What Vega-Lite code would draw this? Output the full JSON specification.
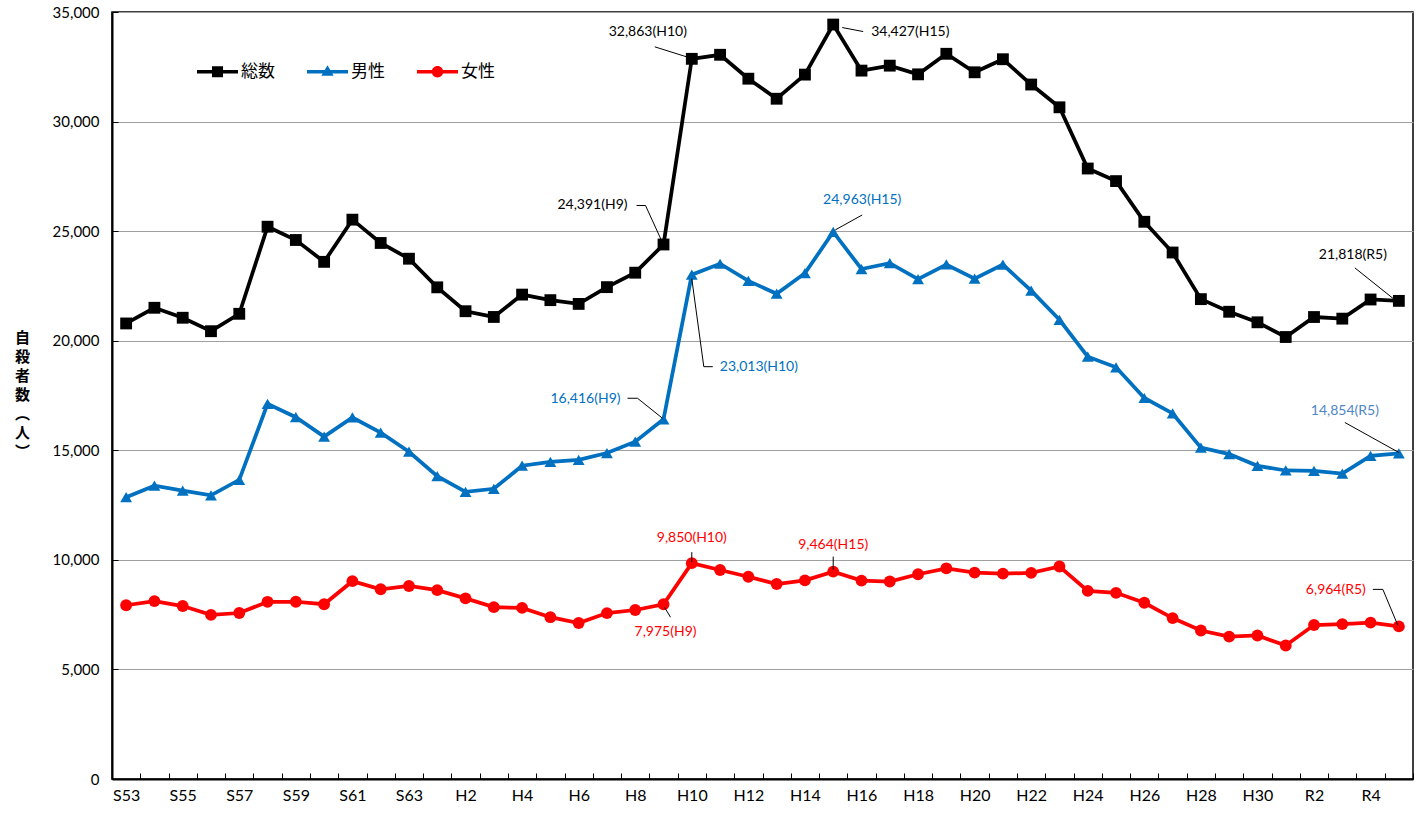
{
  "$schema": "https://vega.github.io/schema/vega-lite/v6.json",
  "width": 1301,
  "height": 767,
  "autosize": {"type": "none"},
  "padding": {"left": 112, "top": 12, "right": 3, "bottom": 34},
  "background": "#ffffff",
  "config": {
    "font": "Lato",
    "view": {"stroke": "#000000", "strokeWidth": 1.5}
  },
  "datasets": {
    "main": [
      {"year": "S53", "総数": 20788, "男性": 12859, "女性": 7929},
      {"year": "S54", "総数": 21503, "男性": 13386, "女性": 8117},
      {"year": "S55", "総数": 21048, "男性": 13155, "女性": 7893},
      {"year": "S56", "総数": 20434, "男性": 12942, "女性": 7492},
      {"year": "S57", "総数": 21228, "男性": 13654, "女性": 7574},
      {"year": "S58", "総数": 25202, "男性": 17116, "女性": 8086},
      {"year": "S59", "総数": 24596, "男性": 16508, "女性": 8088},
      {"year": "S60", "総数": 23599, "男性": 15624, "女性": 7975},
      {"year": "S61", "総数": 25524, "男性": 16497, "女性": 9027},
      {"year": "S62", "総数": 24460, "男性": 15802, "女性": 8658},
      {"year": "S63", "総数": 23742, "男性": 14934, "女性": 8808},
      {"year": "H1", "総数": 22436, "男性": 13818, "女性": 8618},
      {"year": "H2", "総数": 21346, "男性": 13102, "女性": 8244},
      {"year": "H3", "総数": 21084, "男性": 13242, "女性": 7842},
      {"year": "H4", "総数": 22104, "男性": 14296, "女性": 7808},
      {"year": "H5", "総数": 21851, "男性": 14468, "女性": 7383},
      {"year": "H6", "総数": 21679, "男性": 14560, "女性": 7119},
      {"year": "H7", "総数": 22445, "男性": 14874, "女性": 7571},
      {"year": "H8", "総数": 23104, "男性": 15393, "女性": 7711},
      {"year": "H9", "総数": 24391, "男性": 16416, "女性": 7975},
      {"year": "H10", "総数": 32863, "男性": 23013, "女性": 9850},
      {"year": "H11", "総数": 33048, "男性": 23512, "女性": 9536},
      {"year": "H12", "総数": 31957, "男性": 22727, "女性": 9230},
      {"year": "H13", "総数": 31042, "男性": 22144, "女性": 8898},
      {"year": "H14", "総数": 32143, "男性": 23080, "女性": 9063},
      {"year": "H15", "総数": 34427, "男性": 24963, "女性": 9464},
      {"year": "H16", "総数": 32325, "男性": 23272, "女性": 9053},
      {"year": "H17", "総数": 32552, "男性": 23540, "女性": 9012},
      {"year": "H18", "総数": 32155, "男性": 22813, "女性": 9342},
      {"year": "H19", "総数": 33093, "男性": 23478, "女性": 9615},
      {"year": "H20", "総数": 32249, "男性": 22831, "女性": 9418},
      {"year": "H21", "総数": 32845, "男性": 23472, "女性": 9373},
      {"year": "H22", "総数": 31690, "男性": 22283, "女性": 9407},
      {"year": "H23", "総数": 30651, "男性": 20955, "女性": 9696},
      {"year": "H24", "総数": 27858, "男性": 19273, "女性": 8585},
      {"year": "H25", "総数": 27283, "男性": 18787, "女性": 8496},
      {"year": "H26", "総数": 25427, "男性": 17386, "女性": 8041},
      {"year": "H27", "総数": 24025, "男性": 16681, "女性": 7344},
      {"year": "H28", "総数": 21897, "男性": 15121, "女性": 6776},
      {"year": "H29", "総数": 21321, "男性": 14826, "女性": 6495},
      {"year": "H30", "総数": 20840, "男性": 14290, "女性": 6550},
      {"year": "R1", "総数": 20169, "男性": 14078, "女性": 6091},
      {"year": "R2", "総数": 21081, "男性": 14055, "女性": 7026},
      {"year": "R3", "総数": 21007, "男性": 13939, "女性": 7068},
      {"year": "R4", "総数": 21881, "男性": 14746, "女性": 7135},
      {"year": "R5", "総数": 21818, "男性": 14854, "女性": 6964}
    ],
    "ann": [
      {"k": "T10", "year": "H10", "value": 32863, "label": "32,863(H10)"},
      {"k": "T15", "year": "H15", "value": 34427, "label": "34,427(H15)"},
      {"k": "T9", "year": "H9", "value": 24391, "label": "24,391(H9)"},
      {"k": "TR5", "year": "R5", "value": 21818, "label": "21,818(R5)"},
      {"k": "M15", "year": "H15", "value": 24963, "label": "24,963(H15)"},
      {"k": "M10", "year": "H10", "value": 23013, "label": "23,013(H10)"},
      {"k": "M9", "year": "H9", "value": 16416, "label": "16,416(H9)"},
      {"k": "MR5", "year": "R5", "value": 14854, "label": "14,854(R5)"},
      {"k": "F10", "year": "H10", "value": 9850, "label": "9,850(H10)"},
      {"k": "F15", "year": "H15", "value": 9464, "label": "9,464(H15)"},
      {"k": "F9", "year": "H9", "value": 7975, "label": "7,975(H9)"},
      {"k": "FR5", "year": "R5", "value": 6964, "label": "6,964(R5)"}
    ]
  },
  "encoding": {
    "x": {
      "field": "year",
      "type": "ordinal",
      "scale": {
        "type": "band",
        "paddingInner": 0,
        "paddingOuter": 0,
        "domain": ["S53","S54","S55","S56","S57","S58","S59","S60","S61","S62","S63","H1","H2","H3","H4","H5","H6","H7","H8","H9","H10","H11","H12","H13","H14","H15","H16","H17","H18","H19","H20","H21","H22","H23","H24","H25","H26","H27","H28","H29","H30","R1","R2","R3","R4","R5"]
      },
      "axis": {
        "title": null,
        "labelAngle": 0,
        "labelFont": "Lato",
        "labelFontSize": 16,
        "labelColor": "#000000",
        "labelPadding": 14,
        "labelExpr": "indexof(['S53','S55','S57','S59','S61','S63','H2','H4','H6','H8','H10','H12','H14','H16','H18','H20','H22','H24','H26','H28','H30','R2','R4'], datum.value) >= 0 ? datum.value : ''",
        "tickBand": "extent",
        "tickSize": -6,
        "tickColor": "#000000",
        "tickWidth": 1,
        "domainColor": "#000000",
        "domainWidth": 2,
        "grid": false
      }
    },
    "y": {
      "field": "value",
      "type": "quantitative",
      "scale": {"domain": [0, 35000], "nice": false, "zero": true},
      "axis": {
        "title": ["自", "殺", "者", "数", "︵", "人", "︶"],
        "titleAngle": 0,
        "titleFont": "Noto Sans CJK JP",
        "titleFontWeight": "bold",
        "titleFontSize": 15,
        "titleLineHeight": 19,
        "titleColor": "#000000",
        "titleX": -90,
        "titleY": 318,
        "titleAlign": "center",
        "titleBaseline": "top",
        "values": [0, 5000, 10000, 15000, 20000, 25000, 30000, 35000],
        "labelExpr": "format(datum.value, ',')",
        "labelFont": "Lato",
        "labelFontSize": 15,
        "labelColor": "#000000",
        "labelPadding": 19,
        "tickSize": -6,
        "tickColor": "#000000",
        "tickWidth": 1,
        "domainColor": "#000000",
        "domainWidth": 2,
        "grid": true,
        "gridColor": "#a0a0a0",
        "gridWidth": 1
      }
    }
  },
  "layer": [
    {
      "data": {"name": "main"},
      "transform": [{"fold": ["総数", "男性", "女性"], "as": ["series", "value"]}],
      "mark": {"type": "point", "filled": true, "opacity": 0, "size": 1},
      "encoding": {
        "color": {
          "field": "series",
          "type": "nominal",
          "scale": {"domain": ["総数", "男性", "女性"], "range": ["#000000", "#0070C0", "#FF0000"]},
          "legend": {
            "title": null,
            "orient": "none",
            "legendX": 85,
            "legendY": 39,
            "direction": "horizontal",
            "columns": 3,
            "columnPadding": 32,
            "labelOffset": 3,
            "labelFont": "Noto Sans CJK JP",
            "labelFontSize": 17,
            "labelColor": "#000000",
            "symbolSize": 1681,
            "symbolStrokeWidth": 0,
            "symbolOpacity": 1
          }
        },
        "shape": {
          "field": "series",
          "type": "nominal",
          "scale": {
            "domain": ["総数", "男性", "女性"],
            "range": [
              "M-1,-0.085H1V0.085H-1Z M-0.27,-0.27H0.27V0.27H-0.27Z",
              "M-1,-0.085H1V0.085H-1Z M0,-0.32L0.3,0.2H-0.3Z",
              "M-1,-0.085H1V0.085H-1Z M-0.28,0A0.28,0.28 0 1,1 0.28,0A0.28,0.28 0 1,1 -0.28,0Z"
            ]
          },
          "legend": {
            "title": null,
            "orient": "none",
            "legendX": 85,
            "legendY": 39,
            "direction": "horizontal",
            "columns": 3,
            "columnPadding": 32,
            "labelOffset": 3,
            "labelFont": "Noto Sans CJK JP",
            "labelFontSize": 17,
            "labelColor": "#000000",
            "symbolSize": 1681,
            "symbolStrokeWidth": 0,
            "symbolOpacity": 1
          }
        }
      }
    },
    {
      "data": {"name": "main"},
      "transform": [{"fold": ["総数", "男性", "女性"], "as": ["series", "value"]}],
      "mark": {"type": "line", "strokeWidth": 3.75},
      "encoding": {"color": {"field": "series", "type": "nominal"}}
    },
    {
      "data": {"name": "main"},
      "transform": [{"fold": ["総数"], "as": ["series", "value"]}],
      "mark": {"type": "point", "shape": "square", "filled": true, "size": 140, "opacity": 1},
      "encoding": {"color": {"field": "series", "type": "nominal"}}
    },
    {
      "data": {"name": "main"},
      "transform": [{"fold": ["男性"], "as": ["series", "value"]}],
      "mark": {"type": "point", "shape": "triangle-up", "filled": true, "size": 140, "opacity": 1},
      "encoding": {"color": {"field": "series", "type": "nominal"}}
    },
    {
      "data": {"name": "main"},
      "transform": [{"fold": ["女性"], "as": ["series", "value"]}],
      "mark": {"type": "point", "shape": "circle", "filled": true, "size": 140, "opacity": 1},
      "encoding": {"color": {"field": "series", "type": "nominal"}}
    },
    {"data": {"name": "ann"}, "transform": [{"filter": "datum.k === 'T10'"}], "mark": {"type": "rule", "color": "#000000", "strokeWidth": 1, "xOffset": -37, "yOffset": -12, "x2Offset": -2, "y2Offset": -1}, "encoding": {"x2": {"field": "year"}, "y2": {"field": "value"}}},
    {"data": {"name": "ann"}, "transform": [{"filter": "datum.k === 'T15'"}], "mark": {"type": "rule", "color": "#000000", "strokeWidth": 1, "xOffset": 9, "yOffset": 3, "x2Offset": 30, "y2Offset": 7}, "encoding": {"x2": {"field": "year"}, "y2": {"field": "value"}}},
    {"data": {"name": "ann"}, "transform": [{"filter": "datum.k === 'T9'"}], "mark": {"type": "rule", "color": "#000000", "strokeWidth": 1, "xOffset": -27, "yOffset": -39, "x2Offset": -18, "y2Offset": -39}, "encoding": {"x2": {"field": "year"}, "y2": {"field": "value"}}},
    {"data": {"name": "ann"}, "transform": [{"filter": "datum.k === 'T9'"}], "mark": {"type": "rule", "color": "#000000", "strokeWidth": 1, "xOffset": -18, "yOffset": -39, "x2Offset": -2, "y2Offset": -4}, "encoding": {"x2": {"field": "year"}, "y2": {"field": "value"}}},
    {"data": {"name": "ann"}, "transform": [{"filter": "datum.k === 'TR5'"}], "mark": {"type": "rule", "color": "#000000", "strokeWidth": 1, "xOffset": -44, "yOffset": -33, "x2Offset": -4, "y2Offset": -1}, "encoding": {"x2": {"field": "year"}, "y2": {"field": "value"}}},
    {"data": {"name": "ann"}, "transform": [{"filter": "datum.k === 'M15'"}], "mark": {"type": "rule", "color": "#000000", "strokeWidth": 1, "xOffset": 29, "yOffset": -17, "x2Offset": 2, "y2Offset": -2}, "encoding": {"x2": {"field": "year"}, "y2": {"field": "value"}}},
    {"data": {"name": "ann"}, "transform": [{"filter": "datum.k === 'M10'"}], "mark": {"type": "rule", "color": "#000000", "strokeWidth": 1, "xOffset": 0, "yOffset": 4, "x2Offset": 12, "y2Offset": 92}, "encoding": {"x2": {"field": "year"}, "y2": {"field": "value"}}},
    {"data": {"name": "ann"}, "transform": [{"filter": "datum.k === 'M10'"}], "mark": {"type": "rule", "color": "#000000", "strokeWidth": 1, "xOffset": 12, "yOffset": 92, "x2Offset": 21, "y2Offset": 92}, "encoding": {"x2": {"field": "year"}, "y2": {"field": "value"}}},
    {"data": {"name": "ann"}, "transform": [{"filter": "datum.k === 'M9'"}], "mark": {"type": "rule", "color": "#000000", "strokeWidth": 1, "xOffset": -36, "yOffset": -21, "x2Offset": -26, "y2Offset": -21}, "encoding": {"x2": {"field": "year"}, "y2": {"field": "value"}}},
    {"data": {"name": "ann"}, "transform": [{"filter": "datum.k === 'M9'"}], "mark": {"type": "rule", "color": "#000000", "strokeWidth": 1, "xOffset": -26, "yOffset": -21, "x2Offset": -1, "y2Offset": -1}, "encoding": {"x2": {"field": "year"}, "y2": {"field": "value"}}},
    {"data": {"name": "ann"}, "transform": [{"filter": "datum.k === 'MR5'"}], "mark": {"type": "rule", "color": "#000000", "strokeWidth": 1, "xOffset": -54, "yOffset": -31, "x2Offset": 0, "y2Offset": -1}, "encoding": {"x2": {"field": "year"}, "y2": {"field": "value"}}},
    {"data": {"name": "ann"}, "transform": [{"filter": "datum.k === 'F10'"}], "mark": {"type": "rule", "color": "#000000", "strokeWidth": 1, "xOffset": 0, "yOffset": -11, "x2Offset": 0, "y2Offset": -1}, "encoding": {"x2": {"field": "year"}, "y2": {"field": "value"}}},
    {"data": {"name": "ann"}, "transform": [{"filter": "datum.k === 'F15'"}], "mark": {"type": "rule", "color": "#000000", "strokeWidth": 1, "xOffset": 0, "yOffset": -15, "x2Offset": 0, "y2Offset": -2}, "encoding": {"x2": {"field": "year"}, "y2": {"field": "value"}}},
    {"data": {"name": "ann"}, "transform": [{"filter": "datum.k === 'F9'"}], "mark": {"type": "rule", "color": "#000000", "strokeWidth": 1, "xOffset": 1, "yOffset": 3, "x2Offset": 7, "y2Offset": 13}, "encoding": {"x2": {"field": "year"}, "y2": {"field": "value"}}},
    {"data": {"name": "ann"}, "transform": [{"filter": "datum.k === 'FR5'"}], "mark": {"type": "rule", "color": "#000000", "strokeWidth": 1, "xOffset": -26, "yOffset": -37, "x2Offset": -16, "y2Offset": -37}, "encoding": {"x2": {"field": "year"}, "y2": {"field": "value"}}},
    {"data": {"name": "ann"}, "transform": [{"filter": "datum.k === 'FR5'"}], "mark": {"type": "rule", "color": "#000000", "strokeWidth": 1, "xOffset": -16, "yOffset": -37, "x2Offset": -1, "y2Offset": -1}, "encoding": {"x2": {"field": "year"}, "y2": {"field": "value"}}},
    {"data": {"name": "ann"}, "transform": [{"filter": "datum.k === 'T10'"}], "mark": {"type": "text", "font": "Lato", "fontSize": 14, "color": "#000000", "align": "center", "baseline": "middle", "dx": -44, "dy": -27}, "encoding": {"text": {"field": "label"}}},
    {"data": {"name": "ann"}, "transform": [{"filter": "datum.k === 'T15'"}], "mark": {"type": "text", "font": "Lato", "fontSize": 14, "color": "#000000", "align": "left", "baseline": "middle", "dx": 38, "dy": 7}, "encoding": {"text": {"field": "label"}}},
    {"data": {"name": "ann"}, "transform": [{"filter": "datum.k === 'T9'"}], "mark": {"type": "text", "font": "Lato", "fontSize": 14, "color": "#000000", "align": "right", "baseline": "middle", "dx": -36, "dy": -39}, "encoding": {"text": {"field": "label"}}},
    {"data": {"name": "ann"}, "transform": [{"filter": "datum.k === 'TR5'"}], "mark": {"type": "text", "font": "Lato", "fontSize": 14, "color": "#000000", "align": "center", "baseline": "middle", "dx": -46, "dy": -46}, "encoding": {"text": {"field": "label"}}},
    {"data": {"name": "ann"}, "transform": [{"filter": "datum.k === 'M15'"}], "mark": {"type": "text", "font": "Lato", "fontSize": 14, "color": "#0070C0", "align": "center", "baseline": "middle", "dx": 29, "dy": -32}, "encoding": {"text": {"field": "label"}}},
    {"data": {"name": "ann"}, "transform": [{"filter": "datum.k === 'M10'"}], "mark": {"type": "text", "font": "Lato", "fontSize": 14, "color": "#0070C0", "align": "left", "baseline": "middle", "dx": 28, "dy": 92}, "encoding": {"text": {"field": "label"}}},
    {"data": {"name": "ann"}, "transform": [{"filter": "datum.k === 'M9'"}], "mark": {"type": "text", "font": "Lato", "fontSize": 14, "color": "#0070C0", "align": "right", "baseline": "middle", "dx": -43, "dy": -20}, "encoding": {"text": {"field": "label"}}},
    {"data": {"name": "ann"}, "transform": [{"filter": "datum.k === 'MR5'"}], "mark": {"type": "text", "font": "Lato", "fontSize": 14, "color": "#4e86c6", "align": "center", "baseline": "middle", "dx": -54, "dy": -42}, "encoding": {"text": {"field": "label"}}},
    {"data": {"name": "ann"}, "transform": [{"filter": "datum.k === 'F10'"}], "mark": {"type": "text", "font": "Lato", "fontSize": 14, "color": "#FF0000", "align": "center", "baseline": "middle", "dx": 0, "dy": -25}, "encoding": {"text": {"field": "label"}}},
    {"data": {"name": "ann"}, "transform": [{"filter": "datum.k === 'F15'"}], "mark": {"type": "text", "font": "Lato", "fontSize": 14, "color": "#FF0000", "align": "center", "baseline": "middle", "dx": 0, "dy": -27}, "encoding": {"text": {"field": "label"}}},
    {"data": {"name": "ann"}, "transform": [{"filter": "datum.k === 'F9'"}], "mark": {"type": "text", "font": "Lato", "fontSize": 14, "color": "#FF0000", "align": "center", "baseline": "middle", "dx": 2, "dy": 28}, "encoding": {"text": {"field": "label"}}},
    {"data": {"name": "ann"}, "transform": [{"filter": "datum.k === 'FR5'"}], "mark": {"type": "text", "font": "Lato", "fontSize": 14, "color": "#FF0000", "align": "right", "baseline": "middle", "dx": -33, "dy": -36}, "encoding": {"text": {"field": "label"}}}
  ]
}
